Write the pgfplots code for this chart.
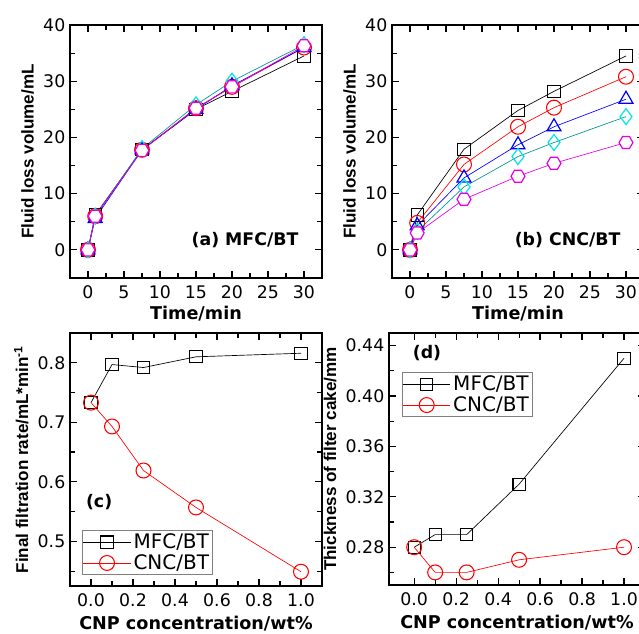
\documentclass[border=0pt]{standalone}
\usepackage{pgfplots}
\pgfplotsset{compat=1.18}
\usepackage{fontspec}
\setmainfont{Liberation Sans}
\newfontfamily\wide{DejaVu Sans}

\definecolor{mcyan}{RGB}{0,230,230}
\definecolor{lteal}{RGB}{0,150,150}
\definecolor{mmag}{RGB}{230,0,230}

\pgfdeclareplotmark{hexagon}{%
  \pgfpathmoveto{\pgfpointpolar{0}{\pgfplotmarksize}}%
  \pgfpathlineto{\pgfpointpolar{60}{\pgfplotmarksize}}%
  \pgfpathlineto{\pgfpointpolar{120}{\pgfplotmarksize}}%
  \pgfpathlineto{\pgfpointpolar{180}{\pgfplotmarksize}}%
  \pgfpathlineto{\pgfpointpolar{240}{\pgfplotmarksize}}%
  \pgfpathlineto{\pgfpointpolar{300}{\pgfplotmarksize}}%
  \pgfpathclose
  \pgfusepathqfillstroke}

\pgfplotsset{
  panel/.style={
    scale only axis,
    anchor=south west,
    axis line style={line width=1.1pt},
    tick align=inside,
    major tick length=5pt,
    minor tick length=3.5pt,
    every tick/.style={black, line width=0.9pt},
    /pgf/number format/assume math mode=true,
    ticklabel style={font=\wide\fontsize{13}{15}\selectfont},
    xticklabel style={yshift=-2pt},
    xlabel style={font=\wide\fontsize{13.2}{15}\selectfont\bfseries},
    ylabel style={font=\fontsize{12.8}{15}\selectfont\bfseries},
    legend style={font=\wide\fontsize{15}{17}\selectfont, draw=gray, line width=0.6pt,
      inner sep=0.5pt, row sep=-1pt},
    legend cell align=left,
    legend image code/.code={%
      \draw[mark repeat=2,mark phase=2] plot coordinates {(0cm,0cm) (0.62cm,0cm) (1.24cm,0cm)};},
  },
  sq/.style={black, line width=0.5pt, mark=square, mark size=4.6pt,
    mark options={fill=white, line width=0.8pt}},
  ci/.style={red, line width=0.5pt, mark=o, mark size=5.6pt,
    mark options={fill=white, line width=0.8pt}},
  tr/.style={blue, line width=0.5pt, mark=triangle, mark size=6pt,
    mark options={fill=white, line width=0.9pt}},
  di/.style={lteal, line width=0.5pt, mark=diamond, mark size=6pt,
    mark options={draw=mcyan, fill=white, line width=0.9pt}},
  hx/.style={mmag, line width=0.5pt, mark=hexagon, mark size=5.2pt,
    mark options={fill=white, line width=0.9pt}},
  timeax/.style={
    width=189pt, height=189.75pt,
    xmin=-2.5, xmax=32.5, ymin=-5, ymax=40,
    xtick={0,5,...,30}, minor xtick={2.5,7.5,...,27.5},
    ytick={0,10,...,40}, minor ytick={-5,5,15,25,35},
    xlabel={Time/min}, ylabel={Fluid loss volume/mL},
    xlabel style={yshift=1pt},
  },
  cnpx/.style={
    xmin=-0.1, xmax=1.1,
    xtick={0,0.2,...,1.0}, minor xtick={0.1,0.3,...,0.9},
    xticklabel style={/pgf/number format/.cd, fixed, fixed zerofill, precision=1},
    xlabel={CNP concentration/wt\%},
  },
}

\begin{document}
\begin{tikzpicture}
\path[use as bounding box, clip] (0,0) rectangle (479.25pt,474.75pt);

% (a) MFC/BT
\begin{axis}[panel, timeax, at={(52.5pt,266.25pt)}]
\addplot[sq] coordinates {(0,0) (1,6.2) (7.5,17.8) (15,25.0) (20,28.2) (30,34.5)};
\addplot[ci] coordinates {(0,0) (1,6.0) (7.5,17.8) (15,25.2) (20,29.0) (30,36.0)};
\addplot[tr] coordinates {(0,0) (1,5.6) (7.5,17.8) (15,25.0) (20,29.2) (30,36.0)};
\addplot[di] coordinates {(0,0) (1,6.0) (7.5,18.0) (15,25.8) (20,30.0) (30,36.5)};
\addplot[hx] coordinates {(0,0) (1,6.0) (7.5,17.7) (15,25.2) (20,29.0) (30,36.3)};
\node[anchor=east, font=\wide\fontsize{13}{15}\selectfont\bfseries] at (rel axis cs:0.925,0.15) {(a) MFC/BT};
\end{axis}

% (b) CNC/BT
\begin{axis}[panel, timeax, at={(294pt,266.25pt)}]
\addplot[sq] coordinates {(0,0) (1,6.2) (7.5,17.9) (15,24.8) (20,28.2) (30,34.5)};
\addplot[ci] coordinates {(0,0) (1,4.8) (7.5,15.2) (15,21.9) (20,25.3) (30,30.8)};
\addplot[tr] coordinates {(0,0) (1,4.3) (7.5,12.8) (15,18.7) (20,21.9) (30,26.8)};
\addplot[di] coordinates {(0,0) (1,3.3) (7.5,11.2) (15,16.6) (20,19.1) (30,23.7)};
\addplot[hx] coordinates {(0,0) (1,3.0) (7.5,9.0) (15,13.1) (20,15.4) (30,19.1)};
\node[anchor=east, font=\wide\fontsize{13}{15}\selectfont\bfseries] at (rel axis cs:0.925,0.15) {(b) CNC/BT};
\end{axis}

% (c) final filtration rate
\begin{axis}[panel, cnpx, at={(52.5pt,35.25pt)},
  width=189pt, height=189.75pt,
  ymin=0.425, ymax=0.85,
  ytick={0.5,0.6,0.7,0.8}, minor ytick={0.45,0.55,0.65,0.75},
  yticklabel style={/pgf/number format/.cd, fixed, fixed zerofill, precision=1},
  ylabel={Final filtration rate/mL*min\textsuperscript{-1}},
  legend style={at={(0.048,0.043)}, anchor=south west}]
\addplot[sq] coordinates {(0,0.733) (0.1,0.797) (0.25,0.792) (0.5,0.810) (1.0,0.816)};
\addplot[ci] coordinates {(0,0.733) (0.1,0.693) (0.25,0.619) (0.5,0.557) (1.0,0.449)};
\legend{MFC/BT, CNC/BT}
\node[anchor=west, font=\wide\fontsize{13}{15}\selectfont\bfseries] at (rel axis cs:0.045,0.33) {(c)};
\end{axis}

% (d) thickness of filter cake
\begin{axis}[panel, cnpx, at={(291.75pt,36pt)},
  xmin=-0.12,
  width=192pt, height=189pt,
  ymin=0.25, ymax=0.45,
  ytick={0.28,0.32,...,0.44}, minor ytick={0.26,0.30,...,0.42},
  yticklabel style={/pgf/number format/.cd, fixed, fixed zerofill, precision=2},
  ylabel={Thickness of filter cake/mm},
  legend style={at={(0.05,0.845)}, anchor=north west}]
\addplot[sq] coordinates {(0,0.28) (0.1,0.29) (0.25,0.29) (0.5,0.33) (1.0,0.43)};
\addplot[ci] coordinates {(0,0.28) (0.1,0.26) (0.25,0.26) (0.5,0.27) (1.0,0.28)};
\legend{MFC/BT, CNC/BT}
\node[anchor=west, font=\wide\fontsize{13}{15}\selectfont\bfseries] at (rel axis cs:0.075,0.92) {(d)};
\end{axis}
\end{tikzpicture}
\end{document}
